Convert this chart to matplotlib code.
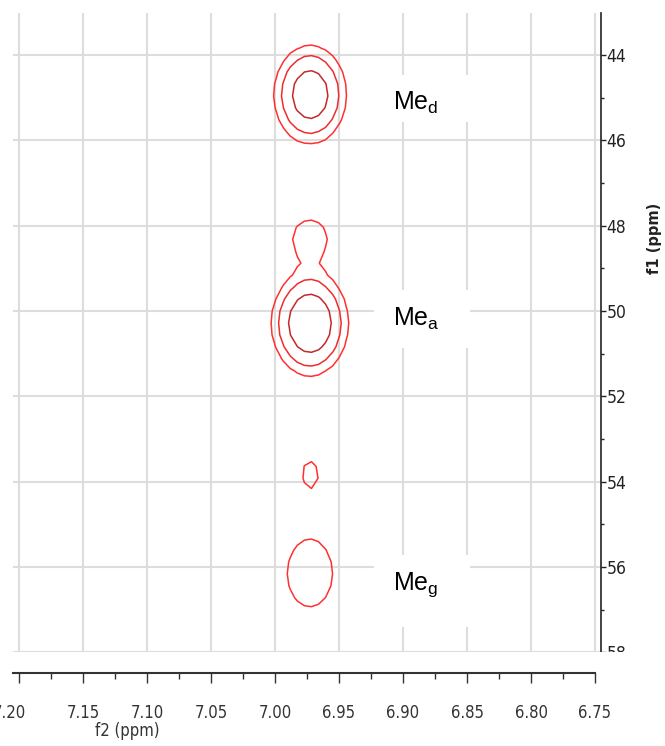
import numpy as np
import matplotlib.pyplot as plt
from matplotlib.patches import Rectangle
from matplotlib.ticker import MultipleLocator, FormatStrFormatter
from matplotlib.transforms import ScaledTranslation

# cross peaks: f2 / f1 centre (ppm), height, widths (ppm)
peak_f2 = [6.9725, 6.9727, 6.9727, 6.9723, 6.9727]
peak_f1 = [44.93, 50.29, 48.29, 53.82, 56.15]
peak_height = [6.2, 7.4, 1.6, 1.15, 1.8]
peak_w2 = [0.0148, 0.0150, 0.0136, 0.0115, 0.0163]
peak_w1 = [0.60, 0.609, 0.436, 0.586, 0.72]
levels = [1, 2, 4]

labels = ['Me$_{d}$', 'Me$_{a}$', 'Me$_{g}$']
label_f2 = [6.908, 6.908, 6.908]
label_f1 = [45.29, 50.35, 56.54]
# white boxes behind the labels (f1 top, f1 bottom)
box_f1 = [(44.47, 45.57), (49.51, 50.87), (55.72, 57.41)]

plt.rcParams['font.family'] = 'DejaVu Sans'
plt.rcParams['font.stretch'] = 'condensed'
plt.rcParams['mathtext.default'] = 'regular'

W, H = 665, 746
def px_box(l, t, r, b):
    return [l / W, 1 - b / H, (r - l) / W, (b - t) / H]

fig = plt.figure(figsize=(W / 100, H / 100), dpi=100)
ax = fig.add_axes(px_box(13, 13, 601, 653))
axx = fig.add_axes(px_box(13, 652, 595, 673))
axx.set_zorder(3)
# white strip hiding the bottom of the f1 axis (cuts the "58" label)
l, b, w, h = px_box(0, 652, W, H)
fig.add_artist(Rectangle((l, b), w, h, transform=fig.transFigure,
                         facecolor='white', edgecolor='none', zorder=2))

# spectrum surface built from the peak list (coarse digital grid)
f2 = np.arange(6.90, 7.05, 0.0055)
f1 = np.arange(43.0, 58.4, 0.28)
X, Y = np.meshgrid(f2, f1)
Z = np.zeros_like(X)
for x0, y0, a, sx, sy in zip(peak_f2, peak_f1, peak_height, peak_w2, peak_w1):
    Z += a * np.exp(-((X - x0) / sx) ** 2 / 2 - ((Y - y0) / sy) ** 2 / 2)

ax.contour(X, Y, Z, levels=levels, colors=['#ff3030', '#f02c2c', '#c42828'],
           linewidths=1.1, zorder=3)

ax.set_xlim(7.2047, 6.7453)
ax.set_ylim(58.015, 43.016)
ax.xaxis.set_major_locator(MultipleLocator(0.05))
ax.yaxis.set_major_locator(MultipleLocator(2))
ax.yaxis.set_minor_locator(MultipleLocator(1))
ax.set_axisbelow(True)
ax.grid(True, which='major', color='#dddddd', lw=1.5)
for s in ['top', 'left', 'bottom']:
    ax.spines[s].set_visible(False)
ax.spines['right'].set_color('#222222')
ax.spines['right'].set_linewidth(1.2)
ax.tick_params(axis='x', bottom=False, labelbottom=False)
ax.yaxis.tick_right()
ax.tick_params(axis='y', which='major', direction='out', length=3.5, width=1,
               pad=0.5, labelsize=12.5, colors='#222222')
ax.tick_params(axis='y', which='minor', direction='out', length=2.5, width=1,
               colors='#222222')

for txt, x, y, (b0, b1) in zip(labels, label_f2, label_f1, box_f1):
    ax.add_patch(Rectangle((6.848, b0), 0.075, b1 - b0, facecolor='white',
                           edgecolor='none', zorder=1.5))
    ax.text(x, y, txt, family='Liberation Sans', fontstretch='normal',
            fontsize=18, ha='left', va='baseline', zorder=4)

# detached f2 axis
axx.set_xlim(7.2047, 6.75)
axx.set_ylim(0, 1)
axx.set_facecolor('white')
for s in ['top', 'left', 'right']:
    axx.spines[s].set_visible(False)
axx.spines['bottom'].set_color('#333333')
axx.spines['bottom'].set_linewidth(1.5)
axx.set_yticks([])
axx.xaxis.set_major_locator(MultipleLocator(0.05))
axx.xaxis.set_minor_locator(MultipleLocator(0.025))
axx.xaxis.set_major_formatter(FormatStrFormatter('%.2f'))
axx.tick_params(axis='x', which='major', direction='out', length=7, width=1,
                pad=15, labelsize=12, colors='#333333')
axx.tick_params(axis='x', which='minor', direction='out', length=4.3, width=1,
                colors='#333333')

fig.canvas.draw()
for lbl in axx.get_xticklabels():
    if lbl.get_text() == '7.20':
        lbl.set_transform(lbl.get_transform()
                          + ScaledTranslation(-0.1, 0, fig.dpi_scale_trans))

fig.text(127 / W, 1 - 731 / H, 'f2 (ppm)', fontsize=12, ha='center', va='center',
         color='#333333')
fig.text(655 / W, 1 - 238 / H, 'f1 (ppm)', fontsize=10.5, fontstretch='normal',
         fontweight='semibold', rotation=90, ha='center', va='center', color='#222222')

fig.savefig('out.png', dpi=100)
